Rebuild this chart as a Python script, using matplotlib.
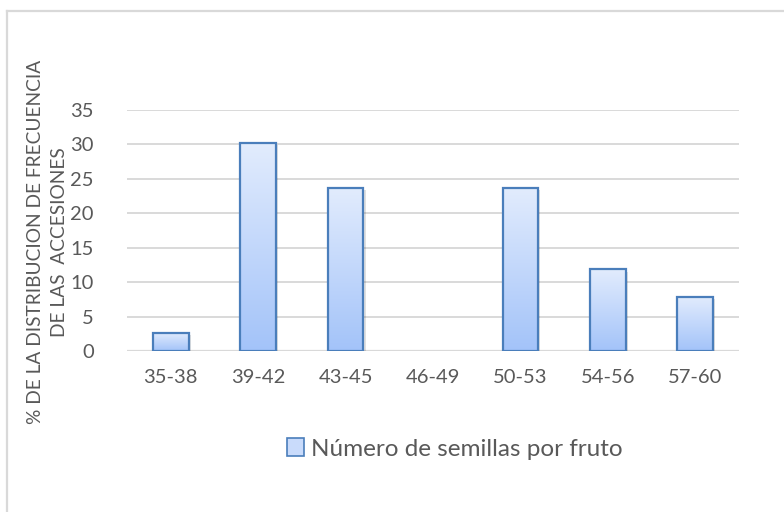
import numpy as np
import matplotlib
matplotlib.use("Agg")
import matplotlib.pyplot as plt
from matplotlib.colors import LinearSegmentedColormap
from matplotlib.lines import Line2D
from matplotlib.patches import Rectangle
from matplotlib import patheffects as pe

plt.rcParams['font.family'] = ['Lato', 'DejaVu Sans']

# frecuencia de semillas por fruto (% de accesiones)
categorias = ["35-38", "39-42", "43-45", "46-49", "50-53", "54-56", "57-60"]
porcentajes = [2.63, 30.26, 23.68, 0.0, 23.68, 11.84, 7.89]
yticks = [0, 5, 10, 15, 20, 25, 30, 35]
serie = "Número de semillas por fruto"
ylabel = "% DE LA DISTRIBUCION DE FRECUENCIA\nDE LAS  ACCESIONES"

gris_texto = "#595959"
gris_linea = "#D9D9D9"
borde_barra = "#4A7EBB"
grad = LinearSegmentedColormap.from_list("azul", ["#A3C3F9", "#E2ECFD"])

fig = plt.figure(figsize=(7.84, 5.12), dpi=100)
ax = fig.add_axes([127 / 784, 1 - 351 / 512, (739 - 127) / 784, (351 - 110) / 512])

x = np.arange(len(categorias))
bars = ax.bar(x, porcentajes, width=0.41, facecolor="none", edgecolor=borde_barra,
              linewidth=1.6, zorder=3)

# relleno degradado dentro de cada barra
g = np.linspace(0, 1, 256).reshape(-1, 1)
for b in bars:
    h = b.get_height()
    if h <= 0:
        b.set_edgecolor("none")
        continue
    x0 = b.get_x()
    w = b.get_width()
    im = ax.imshow(g, cmap=grad, origin="lower", aspect="auto",
                   extent=[x0, x0 + w, 0, h], zorder=2)
    im.set_clip_path(b)
    sombra = Rectangle((x0, 0), w, h, facecolor="none", edgecolor="none", zorder=1.5,
                       path_effects=[pe.SimplePatchShadow(offset=(1.5, -1.5), shadow_rgbFace="#000000", alpha=0.12)])
    ax.add_patch(sombra)

ax.set_xlim(-0.5, len(categorias) - 0.5)
ax.set_ylim(0, 35)
ax.set_yticks(yticks)
ax.set_xticks(x)
ax.set_xticklabels(categorias)
ax.yaxis.grid(True, color=gris_linea, linewidth=1.4)
ax.set_axisbelow(True)
for s in ax.spines.values():
    s.set_visible(False)
ax.tick_params(axis="both", length=0, colors=gris_texto, labelsize=14.5)
ax.tick_params(axis="x", pad=13)
ax.tick_params(axis="y", pad=24)
ax.axhline(0, color=gris_linea, linewidth=1.6, zorder=1)

fig.text(47.5 / 784, 1 - 242 / 512, ylabel, rotation=90, ha="center", va="center",
         multialignment="center", fontsize=13.8, color=gris_texto, linespacing=1.55)

# leyenda
handle = Rectangle((0, 0), 1, 1, facecolor="#C9DBFB", edgecolor=borde_barra, linewidth=1.2)
fig.legend([handle], [serie], loc="center", bbox_to_anchor=(455 / 784, 1 - 449 / 512),
           frameon=False, fontsize=17.5, labelcolor=gris_texto, handlelength=0.7,
           handleheight=0.7, handletextpad=0.3)

# marco del gráfico
fig.add_artist(Line2D([7 / 784, 7 / 784], [0, 1 - 11 / 512], color=gris_linea, linewidth=1.6))
fig.add_artist(Line2D([7 / 784, 1], [1 - 11 / 512, 1 - 11 / 512], color=gris_linea, linewidth=1.6))

fig.savefig("out.png", dpi=100, facecolor="white")
